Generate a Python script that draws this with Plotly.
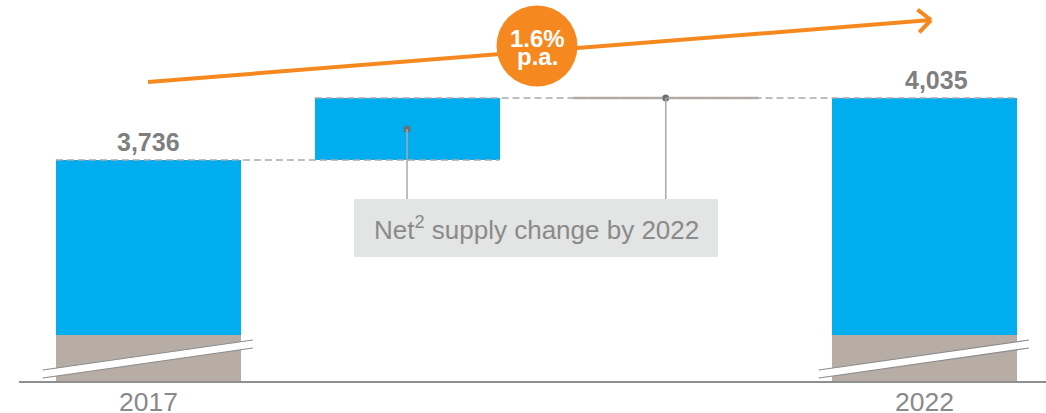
import math
import plotly.graph_objects as go

# ---- data -------------------------------------------------------------
years = ["2017", "2022"]
supply_2017 = 3736
supply_2022 = 4035
net_change = supply_2022 - supply_2017      # floating step bar
other_change = 0                             # flat step (thin line)
growth_label = ["1.6%", "p.a."]
callout_text = "Net<sup>2</sup> supply change by 2022"

# ---- layout constants -------------------------------------------------
W_PX, H_PX = 1046, 413
M_L, M_R, M_T, M_B = 19, 0, 0, 32
PLOT_W = W_PX - M_L - M_R
PLOT_H = H_PX - M_T - M_B
X_RANGE = [-0.5, 3.47]
Y_RANGE = [2670, 4508]          # broken axis: bottom part is not shown
STUB_TOP = 2892                 # top of the tan "broken axis" stub
BAR_W = 0.715

BLUE = "#00AEEF"
TAN = "#B7ADA4"
ORANGE = "#F5891F"
GREY_TXT = "#7F7F7F"
GREY_LINE = "#A9A9A9"

pos_2017, pos_step, pos_flat, pos_2022 = 0, 1, 2, 3


def paper_x(px):
    return (px - M_L) / PLOT_W


def paper_y(py):
    return (M_T + PLOT_H - py) / PLOT_H


def data_y(py):
    return Y_RANGE[0] + paper_y(py) * (Y_RANGE[1] - Y_RANGE[0])


def data_x(px):
    return X_RANGE[0] + paper_x(px) * (X_RANGE[1] - X_RANGE[0])


fig = go.Figure()

# tan stubs at the bottom of the two total bars
fig.add_trace(go.Bar(
    x=[pos_2017, pos_2022], y=[STUB_TOP, STUB_TOP], base=[0, 0],
    width=BAR_W, marker=dict(color=TAN, line=dict(width=0)),
    hoverinfo="skip", showlegend=False))

# blue total bars
fig.add_trace(go.Bar(
    x=[pos_2017, pos_2022],
    y=[supply_2017 - STUB_TOP, supply_2022 - STUB_TOP],
    base=[STUB_TOP, STUB_TOP],
    width=BAR_W, marker=dict(color=BLUE, line=dict(width=0)),
    hoverinfo="skip", showlegend=False))

# floating net change bar
fig.add_trace(go.Bar(
    x=[pos_step], y=[net_change], base=[supply_2017],
    width=BAR_W, marker=dict(color=BLUE, line=dict(width=0)),
    hoverinfo="skip", showlegend=False))

# flat step shown as a thin tan line
flat_level = supply_2017 + net_change + other_change
fig.add_trace(go.Scatter(
    x=[pos_flat - BAR_W / 2, pos_flat + BAR_W / 2],
    y=[flat_level, flat_level], mode="lines",
    line=dict(color=TAN, width=2.5),
    hoverinfo="skip", showlegend=False))

shapes = []

# dashed connectors between step levels
shapes.append(dict(type="line", xref="x", yref="y",
                   x0=pos_2017 - BAR_W / 2, x1=pos_step + BAR_W / 2,
                   y0=supply_2017, y1=supply_2017,
                   line=dict(color=GREY_LINE, width=1.5, dash="7px,4px"),
                   layer="above"))
shapes.append(dict(type="line", xref="x", yref="y",
                   x0=pos_step - BAR_W / 2, x1=pos_2022 + BAR_W / 2,
                   y0=flat_level, y1=flat_level,
                   line=dict(color=GREY_LINE, width=1.5, dash="7px,4px"),
                   layer="above"))

# axis-break marks across the two total bars
for p in (pos_2017, pos_2022):
    xl = p - 0.408
    xr = p + 0.404
    yl_hi, yr_hi = data_y(370), data_y(340)
    yl_lo, yr_lo = data_y(378), data_y(348)
    shapes.append(dict(type="path", xref="x", yref="y",
                       path=f"M{xl},{yl_hi} L{xr},{yr_hi} L{xr},{yr_lo} L{xl},{yl_lo} Z",
                       fillcolor="white", line=dict(width=0), layer="above"))
    for a, b in ((yl_hi, yr_hi), (yl_lo, yr_lo)):
        shapes.append(dict(type="line", xref="x", yref="y",
                           x0=xl, x1=xr, y0=a, y1=b,
                           line=dict(color="#8C8C8C", width=1.2),
                           layer="above"))

# callout box and leader lines
box_x0, box_x1 = data_x(354), data_x(718)
box_top, box_bot = data_y(199), data_y(257)
shapes.append(dict(type="rect", xref="x", yref="y",
                   x0=box_x0, x1=box_x1, y0=box_bot, y1=box_top,
                   fillcolor="#E3E4E4", line=dict(width=0), layer="above"))
step_mid = supply_2017 + net_change / 2
for px_, py_ in ((pos_step, step_mid), (pos_flat, flat_level)):
    shapes.append(dict(type="line", xref="x", yref="y",
                       x0=px_, x1=px_, y0=py_, y1=box_top,
                       line=dict(color=GREY_LINE, width=1.5), layer="above"))

# growth arrow with open chevron head
ax0, ay0 = 148, 82
ax1, ay1 = 931, 20
shapes.append(dict(type="line", xref="paper", yref="paper",
                   x0=paper_x(ax0), y0=paper_y(ay0),
                   x1=paper_x(ax1), y1=paper_y(ay1),
                   line=dict(color=ORANGE, width=4), layer="above"))
dx, dy = ax1 - ax0, ay1 - ay0
n = math.hypot(dx, dy)
bx, by = -dx / n, -dy / n
for ang in (math.radians(42), math.radians(-42)):
    rx = bx * math.cos(ang) - by * math.sin(ang)
    ry = bx * math.sin(ang) + by * math.cos(ang)
    shapes.append(dict(type="line", xref="paper", yref="paper",
                       x0=paper_x(ax1), y0=paper_y(ay1),
                       x1=paper_x(ax1 + 17 * rx), y1=paper_y(ay1 + 17 * ry),
                       line=dict(color=ORANGE, width=4), layer="above"))

# growth badge
cx, cy, r = 537, 46, 40.5
shapes.append(dict(type="circle", xref="paper", yref="paper",
                   xsizemode="pixel", ysizemode="pixel",
                   xanchor=paper_x(cx), yanchor=paper_y(cy),
                   x0=-r, x1=r, y0=-r, y1=r,
                   fillcolor=ORANGE, line=dict(width=0), layer="above"))

# dots on the leader line ends
fig.add_trace(go.Scatter(
    x=[pos_step, pos_flat], y=[step_mid, flat_level], mode="markers",
    marker=dict(color="#6E6E6E", size=7),
    hoverinfo="skip", showlegend=False))

badge_font = dict(family="Liberation Sans", size=24, color="white", weight="bold")
value_font = dict(family="Liberation Sans", size=25, color=GREY_TXT, weight="bold")
year_font = dict(family="Liberation Sans", size=26.5, color="#8A8A8A")
annotations = [
    dict(x=pos_2017, y=supply_2017, xref="x", yref="y", text=f"{supply_2017:,}",
         showarrow=False, yanchor="bottom", yshift=2, font=value_font),
    dict(x=pos_2022, y=supply_2022, xref="x", yref="y", text=f"{supply_2022:,}",
         showarrow=False, yanchor="bottom", yshift=2, xshift=12, font=value_font),
    dict(x=(box_x0 + box_x1) / 2, y=(box_top + box_bot) / 2, xref="x", yref="y",
         text=callout_text, showarrow=False, yanchor="middle",
         font=dict(family="Liberation Sans", size=26, color="#8A8A8A")),
    # badge lines set tightly together
    dict(x=paper_x(cx), y=paper_y(36), xref="paper", yref="paper",
         xanchor="center", yanchor="middle",
         text=growth_label[0], showarrow=False, height=23, valign="top",
         borderpad=0, borderwidth=0, font=badge_font),
    dict(x=paper_x(cx), y=paper_y(61), xref="paper", yref="paper",
         xanchor="center", yanchor="middle",
         text=growth_label[1], showarrow=False, height=18, valign="bottom",
         borderpad=0, borderwidth=0, font=badge_font),
]
# year labels under the axis
for p, label in zip((pos_2017, pos_2022), years):
    annotations.append(dict(x=p, y=paper_y(402), xref="x", yref="paper",
                            xanchor="center", yanchor="middle",
                            text=label, showarrow=False, font=year_font))

fig.update_layout(
    width=W_PX, height=H_PX,
    margin=dict(l=M_L, r=M_R, t=M_T, b=M_B, pad=0, autoexpand=False),
    paper_bgcolor="white", plot_bgcolor="white",
    barmode="overlay", bargap=0,
    shapes=shapes, annotations=annotations,
    xaxis=dict(range=X_RANGE, automargin=False, showticklabels=False,
               showgrid=False, zeroline=False,
               showline=True, linecolor="#8F8F8F", linewidth=1.5, ticks=""),
    yaxis=dict(range=Y_RANGE, visible=False, showgrid=False, zeroline=False),
    showlegend=False,
)

fig.write_html("out.html")
